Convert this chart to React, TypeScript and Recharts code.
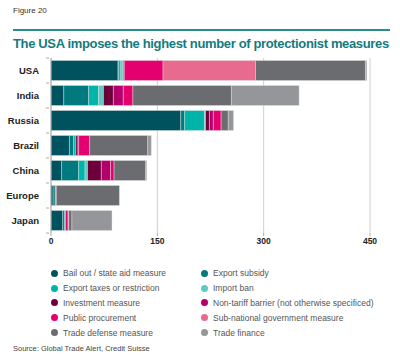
import { BarChart, Bar, XAxis, YAxis, CartesianGrid } from 'recharts';

const countries = ['USA', 'India', 'Russia', 'Brazil', 'China', 'Europe', 'Japan'];

// values per category, in the order of `countries`
const bailOut = [94.5, 18, 183, 26, 15, 3, 16.5];
const exportSubsidy = [1, 35, 5.5, 6, 24, 3, 2.5];
const exportTaxes = [3, 14, 28, 3, 9, 0, 1.5];
const importBan = [3, 7, 1.5, 0, 3.5, 0, 0];
const investment = [1, 14, 5.5, 3, 19.5, 0, 0];
const nonTariff = [1, 14, 5.5, 1, 13, 0, 0];
const publicProcurement = [54.5, 13.5, 11, 15.5, 5, 0, 3.5];
const subNational = [130.5, 0, 0, 0, 0, 1.5, 1];
const tradeDefense = [155, 139, 10, 82, 44.5, 89, 4.5];
const tradeFinance = [2, 95.5, 7.5, 5, 1.5, 0, 56.5];

const xTicks = [0, 150, 300, 450];

const series = [
  { key: 'bailOut', name: 'Bail out / state aid measure', color: '#00535e', values: bailOut },
  { key: 'exportSubsidy', name: 'Export subsidy', color: '#007a7e', values: exportSubsidy },
  { key: 'exportTaxes', name: 'Export taxes or restriction', color: '#00b4a9', values: exportTaxes },
  { key: 'importBan', name: 'Import ban', color: '#5ccbc1', values: importBan },
  { key: 'investment', name: 'Investment measure', color: '#6d003b', values: investment },
  { key: 'nonTariff', name: 'Non-tariff barrier (not otherwise specificed)', color: '#b3006c', values: nonTariff },
  { key: 'publicProcurement', name: 'Public procurement', color: '#e5006f', values: publicProcurement },
  { key: 'subNational', name: 'Sub-national government measure', color: '#e86a8e', values: subNational },
  { key: 'tradeDefense', name: 'Trade defense measure', color: '#6b6c6f', values: tradeDefense },
  { key: 'tradeFinance', name: 'Trade finance', color: '#959699', values: tradeFinance },
];

const data = countries.map((c, i) => {
  const row: Record<string, string | number> = { country: c };
  series.forEach(s => { row[s.key] = s.values[i]; });
  return row;
});

const font = '"Liberation Sans", Arial, sans-serif';

function CountryTick(props: any) {
  const { x, y, payload, index } = props;
  return (
    <g>
      <text x={x - 4} y={y} dy={3.5} textAnchor="end" fontSize={9.5} fontWeight={700} fill="#222" fontFamily={font}>
        {payload.value}
      </text>
      <line x1={x + 3} x2={x + 6} y1={y - 12.5} y2={y - 12.5} stroke="#aaa" />
      {index === countries.length - 1 && (
        <line x1={x + 3} x2={x + 6} y1={y + 12.5} y2={y + 12.5} stroke="#aaa" />
      )}
    </g>
  );
}

export default function App() {
  return (
    <div style={{ position: 'fixed', left: 0, top: 0, width: 400, height: 362, background: '#fff', fontFamily: font }}>
      <div style={{ position: 'absolute', left: 13, top: 6, fontSize: 8, color: '#333' }}>Figure 20</div>
      <div style={{ position: 'absolute', left: 13, top: 29, width: 377, height: 1.5, background: '#2a8c90' }} />
      <div style={{ position: 'absolute', left: 13, top: 36, fontSize: 13, fontWeight: 700, color: '#137a80', whiteSpace: 'nowrap', letterSpacing: -0.35 }}>
        The USA imposes the highest number of protectionist measures
      </div>
      <div style={{ position: 'absolute', left: 0, top: 50 }}>
        <BarChart
          width={400}
          height={205}
          data={data}
          layout="vertical"
          barCategoryGap={2.5}
          margin={{ top: 8, right: 30, bottom: 0, left: 0 }}
        >
          <CartesianGrid horizontal={false} stroke="#cfcfcf" strokeDasharray="" />
          <XAxis
            type="number"
            domain={[0, 450]}
            ticks={xTicks}
            axisLine={false}
            tickLine={{ stroke: '#aaa' }}
            tickSize={3}
            height={22}
            tick={{ fontSize: 8.5, fill: '#222', fontFamily: font, fontWeight: 700 }}
          />
          <YAxis
            type="category"
            dataKey="country"
            width={51}
            axisLine={{ stroke: '#aaa' }}
            tickLine={false}
            tick={<CountryTick />}
          />
          {series.map(s => (
            <Bar
              key={s.key}
              dataKey={s.key}
              stackId="a"
              fill={s.color}
              stroke="#e6e6e6"
              strokeWidth={0.4}
              isAnimationActive={false}
            />
          ))}
        </BarChart>
      </div>
      <div style={{ position: 'absolute', left: 51, top: 266, width: 340, display: 'grid', gridTemplateColumns: '150px 190px', rowGap: 0 }}>
        {series.map(s => (
          <div key={s.key} style={{ display: 'flex', alignItems: 'center', height: 14.8, fontSize: 8.5, color: '#555', whiteSpace: 'nowrap' }}>
            <span style={{ width: 7, height: 7, borderRadius: '50%', background: s.color, marginRight: 5, display: 'inline-block' }} />
            {s.name}
          </div>
        ))}
      </div>
      <div style={{ position: 'absolute', left: 13, top: 344, fontSize: 7.5, color: '#444' }}>
        Source: Global Trade Alert, Credit Suisse
      </div>
    </div>
  );
}
